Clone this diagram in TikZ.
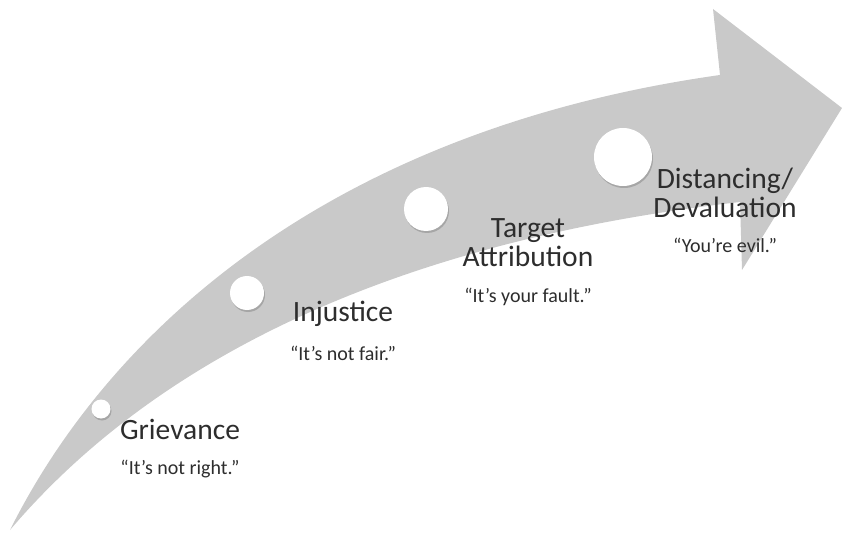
\documentclass[tikz,border=0pt]{standalone}
\usepackage{fontspec}
\setmainfont{Carlito}
\usepackage{xcolor}
\usepackage{tikz}
\usetikzlibrary{shadows}
\definecolor{arrowgray}{RGB}{201,201,201}
\definecolor{inkgray}{RGB}{45,45,45}
\tikzstyle{dot}=[circle, fill=white, inner sep=0pt, drop shadow={shadow xshift=1pt, shadow yshift=-2pt, opacity=0.35, fill=black!60}]
\tikzstyle{stage}=[text=inkgray, align=center, inner sep=0pt, font=\fontsize{29.5}{29}\selectfont]
\tikzstyle{saying}=[text=inkgray, inner sep=0pt, font=\fontsize{20}{22}\selectfont]

\begin{document}
\begin{tikzpicture}[x=1pt, y=-1pt]
	\useasboundingbox (0,0) rectangle (842,534);
	% the rising arrow
	\fill[arrowgray] (10,530) .. controls (110,330) and (330,130) .. (720,75)
		-- (713,9) -- (842,108) -- (742,270) -- (740,202)
		.. controls (450,235) and (180,330) .. (10,530) -- cycle;
	% stations on the arrow
	\node[dot, minimum size=19pt] (grievanceDot) at (101,409) {};
	\node[dot, minimum size=34pt] (injusticeDot) at (247,293) {};
	\node[dot, minimum size=44pt] (targetDot) at (426,209) {};
	\node[dot, minimum size=58pt] (distancingDot) at (623,157) {};
	% labels
	\node[stage] (grievance) at (180,429) {Grievance};
	\node[saying] (grievanceSay) at (180,469) {“It’s not right.”};
	\node[stage] (injustice) at (343,314) {Injustice};
	\node[saying] (injusticeSay) at (343,353) {“It’s not fair.”};
	\node[stage] (target) at (528,243) {Target\\Attribution};
	\node[saying] (targetSay) at (528,297) {“It’s your fault.”};
	\node[stage] (distancing) at (725,193) {Distancing/\\Devaluation};
	\node[saying] (distancingSay) at (725,245) {“You’re evil.”};
\end{tikzpicture}
\end{document}
